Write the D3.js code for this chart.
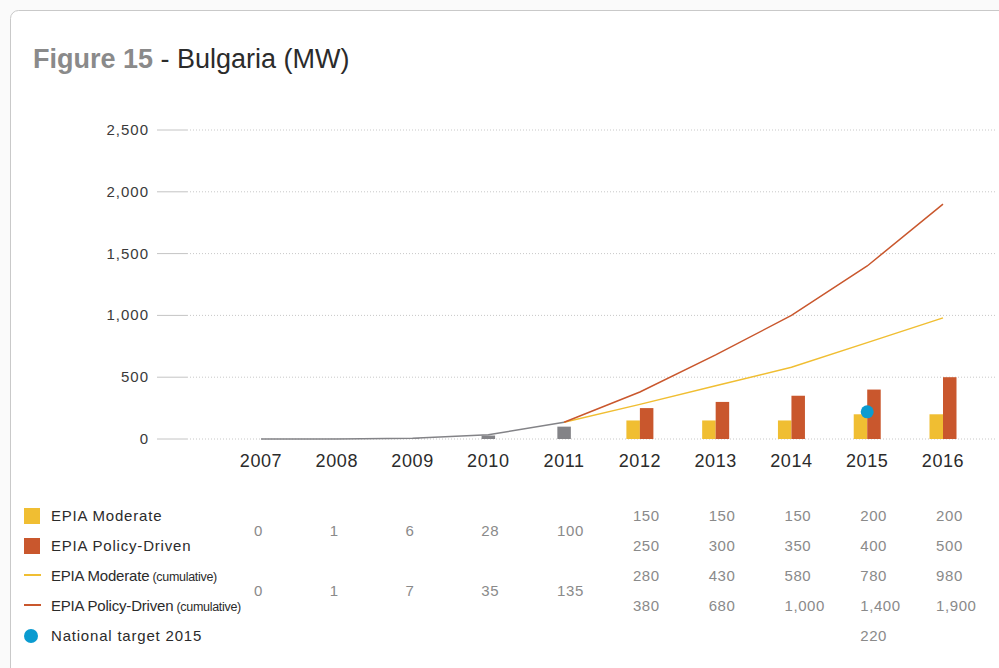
<!DOCTYPE html>
<html>
<head>
<meta charset="utf-8">
<script src="https://cdn.jsdelivr.net/npm/d3@7"></script>
<style>
  body { margin: 0; background: #fafafa; font-family: "Helvetica Neue", Helvetica, "Liberation Sans", Arial, sans-serif; }
  svg { display: block; }
</style>
</head>
<body>
<script>
// values
const years = [2007, 2008, 2009, 2010, 2011, 2012, 2013, 2014, 2015, 2016];
const histYears = [2007, 2008, 2009, 2010, 2011];
const histAnnual = [0, 1, 6, 28, 100];
const histCumulative = [0, 1, 7, 35, 135];
const forecastYears = [2012, 2013, 2014, 2015, 2016];
const moderateAnnual = [150, 150, 150, 200, 200];
const policyAnnual = [250, 300, 350, 400, 500];
const moderateCumulative = [280, 430, 580, 780, 980];
const policyCumulative = [380, 680, 1000, 1400, 1900];
const targetYear = 2015;
const targetValue = 220;
const yTicks = [0, 500, 1000, 1500, 2000, 2500];

const legendItems = [
  { label: "EPIA Moderate", small: "", kind: "rect", color: "#f0be32" },
  { label: "EPIA Policy-Driven", small: "", kind: "rect", color: "#c9572d" },
  { label: "EPIA Moderate", small: " (cumulative)", kind: "line", color: "#f0be32" },
  { label: "EPIA Policy-Driven", small: " (cumulative)", kind: "line", color: "#c9572d" },
  { label: "National target 2015", small: "", kind: "dot", color: "#0a9bd0" }
];

const W = 999, H = 668;
const grey = "#838387";
const svg = d3.select("body").append("svg").attr("width", W).attr("height", H);

// card
svg.append("rect").attr("x", 10.5).attr("y", 10.5).attr("width", 1010).attr("height", 700)
  .attr("rx", 8).attr("fill", "#fff").attr("stroke", "#c9c9c9");

// title
const title = svg.append("text").attr("x", 33).attr("y", 68).attr("font-size", 27);
title.append("tspan").attr("font-weight", "bold").attr("fill", "#8a8a8a").text("Figure 15");
title.append("tspan").attr("fill", "#2b2b2b").text(" - Bulgaria (MW)");

const x = d3.scalePoint().domain(years).range([261, 943]);
const y = d3.scaleLinear().domain([0, 2500]).range([439, 130]);

// y axis: grid
const g = svg.append("g");
yTicks.forEach(t => {
  g.append("line").attr("x1", 157).attr("x2", 187).attr("y1", y(t)).attr("y2", y(t))
    .attr("stroke", "#c4c4c4").attr("stroke-width", 1);
  g.append("line").attr("x1", 187).attr("x2", 995).attr("y1", y(t)).attr("y2", y(t))
    .attr("stroke", "#c8c8c8").attr("stroke-width", 1).attr("stroke-dasharray", "1,2");
  g.append("text").attr("x", 149).attr("y", y(t) + 5).attr("text-anchor", "end")
    .attr("font-size", 15).attr("letter-spacing", 1).attr("fill", "#3a3a3a")
    .text(d3.format(",")(t));
});

// x labels
g.selectAll(".xl").data(years).enter().append("text")
  .attr("x", d => x(d)).attr("y", 467).attr("text-anchor", "middle")
  .attr("font-size", 18).attr("letter-spacing", 0.6).attr("fill", "#2b2b2b").text(d => d);

const bw = 13.5;
// historical bars
g.selectAll(".hb").data(histYears).enter().append("rect")
  .attr("x", d => x(d) - bw / 2).attr("width", bw)
  .attr("y", (d, i) => y(histAnnual[i])).attr("height", (d, i) => y(0) - y(histAnnual[i]))
  .attr("fill", grey);
// forecast bars
g.selectAll(".mb").data(forecastYears).enter().append("rect")
  .attr("x", d => x(d) - bw).attr("width", bw)
  .attr("y", (d, i) => y(moderateAnnual[i])).attr("height", (d, i) => y(0) - y(moderateAnnual[i]))
  .attr("fill", "#f0be32");
g.selectAll(".pb").data(forecastYears).enter().append("rect")
  .attr("x", d => x(d)).attr("width", bw)
  .attr("y", (d, i) => y(policyAnnual[i])).attr("height", (d, i) => y(0) - y(policyAnnual[i]))
  .attr("fill", "#c9572d");

// cumulative lines
const line = d3.line().x(d => x(d[0])).y(d => y(d[1]));
const last = [histYears[histYears.length - 1], histCumulative[histCumulative.length - 1]];
const histPts = histYears.map((d, i) => [d, histCumulative[i]]);
const modPts = [last].concat(forecastYears.map((d, i) => [d, moderateCumulative[i]]));
const polPts = [last].concat(forecastYears.map((d, i) => [d, policyCumulative[i]]));
g.append("path").attr("d", line(modPts)).attr("fill", "none").attr("stroke", "#f0be32").attr("stroke-width", 1.5);
g.append("path").attr("d", line(polPts)).attr("fill", "none").attr("stroke", "#c9572d").attr("stroke-width", 1.5);
g.append("path").attr("d", line(histPts)).attr("fill", "none").attr("stroke", grey).attr("stroke-width", 1.5);

// target
g.append("circle").attr("cx", x(targetYear)).attr("cy", y(targetValue)).attr("r", 6.5).attr("fill", "#0a9bd0");

// legend
const rowY = [516, 546, 576, 606, 636];
legendItems.forEach((d, i) => {
  const cy = rowY[i];
  if (d.kind === "rect") {
    svg.append("rect").attr("x", 24).attr("y", cy - 8).attr("width", 16).attr("height", 16).attr("fill", d.color);
  } else if (d.kind === "line") {
    svg.append("line").attr("x1", 24).attr("x2", 41).attr("y1", cy - 1).attr("y2", cy - 1)
      .attr("stroke", d.color).attr("stroke-width", 2);
  } else {
    svg.append("circle").attr("cx", 31).attr("cy", cy).attr("r", 7).attr("fill", d.color);
  }
  const t = svg.append("text").attr("x", 51).attr("y", cy + 5).attr("fill", "#2b2b2b");
  if (d.small) {
    t.attr("font-size", 15).attr("letter-spacing", -0.2);
    t.append("tspan").text(d.label);
    t.append("tspan").attr("font-size", 12.5).attr("letter-spacing", -0.3).text(d.small);
  } else {
    t.attr("font-size", 15).attr("letter-spacing", 0.8).text(d.label);
  }
});

// table values
const tv = (xx, yy, v) => svg.append("text").attr("x", x(xx) - 7).attr("y", yy + 5)
  .attr("font-size", 15).attr("letter-spacing", 0.6).attr("fill", "#8a8a8a").text(d3.format(",")(v));
histYears.forEach((d, i) => {
  tv(d, 531, histAnnual[i]);
  tv(d, 591, histCumulative[i]);
});
forecastYears.forEach((d, i) => {
  tv(d, rowY[0], moderateAnnual[i]);
  tv(d, rowY[1], policyAnnual[i]);
  tv(d, rowY[2], moderateCumulative[i]);
  tv(d, rowY[3], policyCumulative[i]);
});
tv(targetYear, rowY[4], targetValue);
</script>
</body>
</html>
